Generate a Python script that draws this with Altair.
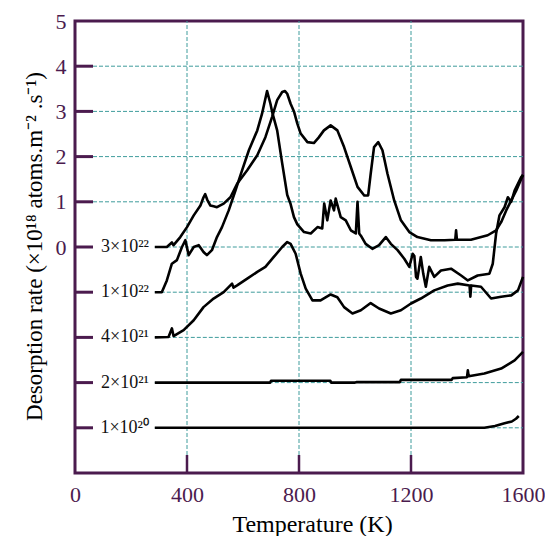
import altair as alt
import pandas as pd

# ---------------- data (plotted values, each curve offset on its own baseline) ----------------
series_names = ["3×10²²", "1×10²²", "4×10²¹", "2×10²¹", "1×10²⁰"]
baselines = [0, -1, -2, -3, -4]

T_3e22 = [285, 328, 346, 352, 376, 400, 424, 448, 459, 465, 472, 483, 495, 507, 531, 555, 579, 615, 651, 680,
          704, 722, 740, 750, 758, 770, 782, 794, 806, 830, 853, 870, 889, 913, 937, 961, 985, 1009, 1033, 1047,
          1056, 1068, 1083, 1098, 1116, 1140, 1164, 1194, 1223, 1271, 1320, 1358, 1361, 1364, 1414, 1474, 1504, 1522, 1540, 1558,
          1576, 1594, 1600]
y_3e22 = [0.0, 0.0, 0.1, 0.04, 0.22, 0.44, 0.70, 0.92, 1.1, 1.17, 1.05, 0.92, 0.90, 0.88, 0.96, 1.10, 1.40, 1.70, 2.03, 2.43,
          2.88, 3.25, 3.43, 3.45, 3.39, 3.17, 3.0, 2.73, 2.51, 2.32, 2.30, 2.42, 2.58, 2.69, 2.58, 2.21, 1.77, 1.33, 1.14, 1.14,
          1.62, 2.21, 2.32, 2.14, 1.62, 1.03, 0.59, 0.33, 0.22, 0.15, 0.15, 0.16, 0.37, 0.16, 0.16, 0.26, 0.37, 0.55, 0.81, 1.03,
          1.25, 1.51, 1.59]

T_1e22 = [285, 310, 328, 346, 364, 382, 394, 406, 424, 442, 459, 471, 489, 507, 525, 549, 573, 597, 621, 651,
          668, 686, 698, 704, 722, 740, 758, 770, 782, 794, 818, 842, 866, 883, 890, 901, 913, 925, 931, 949,
          967, 985, 1003, 1009, 1015, 1021, 1038, 1062, 1086, 1110, 1128, 1152, 1176, 1194, 1206, 1212, 1218, 1223, 1235, 1244,
          1253, 1265, 1283, 1307, 1343, 1379, 1403, 1438, 1480, 1492, 1504, 1516, 1534, 1546, 1558, 1570, 1594, 1600]
y_1e22 = [-1.0, -1.0, -0.74, -0.37, -0.29, 0.0, 0.15, -0.18, 0.0, 0.04, -0.11, -0.18, -0.07, 0.22, 0.44, 0.81, 1.25, 1.70, 2.14, 2.58,
          2.95, 3.45, 3.17, 2.99, 2.58, 1.85, 1.15, 0.95, 0.66, 0.50, 0.33, 0.30, 0.44, 0.41, 0.96, 0.59, 1.03, 0.81, 1.07, 0.66,
          0.59, 0.37, 0.30, 1.0, 0.30, 0.25, 0.07, -0.04, 0.04, 0.22, 0.07, -0.07, -0.26, -0.44, -0.15, -0.2, -0.66, -0.70, -0.22, -0.60,
          -0.88, -0.44, -0.66, -0.52, -0.48, -0.63, -0.74, -0.63, -0.59, -0.37, 0.30, 0.70, 0.88, 1.10, 1.0, 1.25, 1.55, 1.60]

T_4e21 = [285, 334, 346, 352, 388, 424, 459, 495, 531, 561, 566, 579, 615, 651, 680, 710, 740, 758, 770, 788,
          806, 824, 848, 877, 913, 937, 961, 991, 1021, 1056, 1086, 1128, 1164, 1200, 1235, 1283, 1331, 1367, 1409, 1412,
          1415, 1450, 1486, 1522, 1558, 1582, 1600]
y_4e21 = [-2.0, -1.99, -1.8, -1.97, -1.84, -1.62, -1.33, -1.14, -1.0, -0.81, -0.9, -0.85, -0.70, -0.55, -0.44, -0.22, 0.0, 0.11, 0.07, -0.15,
          -0.59, -0.92, -1.18, -1.18, -1.05, -1.11, -1.33, -1.47, -1.40, -1.24, -1.36, -1.47, -1.40, -1.25, -1.14, -0.96, -0.85, -0.81, -0.85, -1.1,
          -0.85, -0.88, -1.14, -1.1, -1.07, -0.96, -0.66]

T_2e21 = [285, 697, 700, 912, 915, 1000, 1005, 1160, 1164, 1345, 1349, 1400, 1403, 1406, 1462, 1522, 1570, 1600]
y_2e21 = [-3.0, -3.0, -2.96, -2.96, -3.0, -3.0, -2.99, -2.99, -2.94, -2.94, -2.9, -2.88, -2.73, -2.86, -2.8, -2.69, -2.51, -2.32]

T_1e20 = [285, 1462, 1500, 1534, 1560, 1575, 1585]
y_1e20 = [-4.0, -4.0, -3.96, -3.9, -3.86, -3.8, -3.74]

x_tick_values = [0, 400, 800, 1200, 1600]
y_label_values = [0, 1, 2, 3, 4, 5]
inner_tick_levels = [4, 3, 2, 1, 0, -1, -2, -3, -4]
vgrid_T = [400, 800, 1200]
hgrid_levels = [4, 3, 2, 1, 0, -1, -2, -3, -4]
hgrid_start = [0, 0, 0, 0, 285, 285, 285, 285, 285]

# ---------------- build tables ----------------
all_T = [T_3e22, T_1e22, T_4e21, T_2e21, T_1e20]
all_y = [y_3e22, y_1e22, y_4e21, y_2e21, y_1e20]
rows = []
for name, Ts, Ys in zip(series_names, all_T, all_y):
    for t, v in zip(Ts, Ys):
        rows.append({"series": name, "T": t, "y": v})
df = pd.DataFrame(rows)

labels_df = pd.DataFrame({"label": series_names, "y": baselines})
hgrid_df = pd.DataFrame({"y": hgrid_levels, "T": hgrid_start, "T1": [1600] * len(hgrid_levels)})
vgrid_df = pd.DataFrame({"T": vgrid_T, "y": [-5] * 3, "y1": [5] * 3})
lticks_df = pd.DataFrame({"y": inner_tick_levels})
bticks_df = pd.DataFrame({"T": vgrid_T})

PURPLE = "#4b1b4e"
TEAL = "#3f9c9c"
FONT = "Liberation Serif"
W, H = 448, 452

xs = alt.Scale(domain=[0, 1600], nice=False, zero=False)
ys = alt.Scale(domain=[-5, 5], nice=False, zero=False)

x_axis = alt.Axis(values=x_tick_values, format="d", ticks=False, tickSize=0, domain=False, grid=False,
                  labelFont=FONT, labelFontSize=22, labelColor=PURPLE, labelPadding=28,
                  labelBaseline="alphabetic", labelFlush=False, labelOverlap=False,
                  title="Temperature (K)", titleFont=FONT, titleFontSize=24, titleColor="black",
                  titleFontWeight="normal", titleX=237, titleY=58, titleBaseline="alphabetic", titleAlign="center")
y_axis = alt.Axis(values=y_label_values, format="d", ticks=False, tickSize=0, domain=False, grid=False,
                  labelFont=FONT, labelFontSize=22, labelColor=PURPLE, labelPadding=9,
                  labelBaseline="middle", labelFlush=False, labelOverlap=False,
                  title="Desorption rate (×10¹⁸ atoms.m⁻² .s⁻¹)", titleFont=FONT, titleFontSize=23,
                  titleColor="black", titleFontWeight="normal", titleX=-34, titleY=225,
                  titleBaseline="alphabetic", titleAlign="center")

X = lambda f: alt.X(f, scale=xs, axis=x_axis)
Y = lambda f: alt.Y(f, scale=ys, axis=y_axis)

hgrid = alt.Chart(hgrid_df).mark_rule(color=TEAL, strokeWidth=1, strokeDash=[4, 2]).encode(
    x=X("T:Q"), x2="T1:Q", y=Y("y:Q"),
)
vgrid = alt.Chart(vgrid_df).mark_rule(color=TEAL, strokeWidth=1, strokeDash=[4, 2]).encode(
    x=X("T:Q"), y=Y("y:Q"), y2="y1:Q",
)
lines = alt.Chart(df).mark_line(color="black", strokeWidth=2.6, strokeJoin="round").encode(
    x=X("T:Q"), y=Y("y:Q"), detail="series:N",
)
lticks = alt.Chart(lticks_df).mark_rule(color=PURPLE, strokeWidth=3).encode(
    y=Y("y:Q"), x=alt.value(0), x2=alt.value(18),
)
bticks = alt.Chart(bticks_df).mark_rule(color=PURPLE, strokeWidth=2.5).encode(
    x=X("T:Q"), y=alt.value(H), y2=alt.value(H - 18),
)
labels = alt.Chart(labels_df).mark_text(align="right", baseline="middle", font=FONT, fontSize=18,
                                        color="#111111").encode(
    y=Y("y:Q"), x=alt.value(74), text="label:N",
)

chart = alt.layer(hgrid, vgrid, lines, lticks, bticks, labels).properties(
    width=W, height=H,
    autosize=alt.AutoSizeParams(type="none"),
    padding={"left": 75, "top": 21, "right": 22, "bottom": 63},
    background="white",
).configure_view(stroke=PURPLE, strokeWidth=3)

chart.save("out.html", embed_options={"renderer": "svg", "actions": False})
